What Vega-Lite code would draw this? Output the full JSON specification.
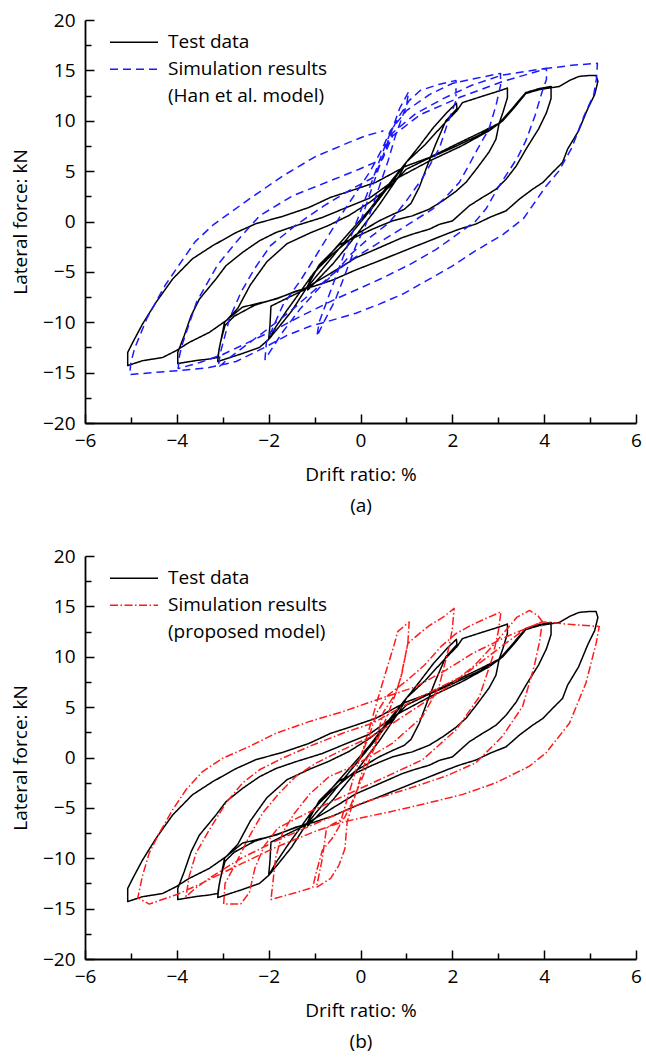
{
"$schema": "https://vega.github.io/schema/vega-lite/v6.json",
"padding": {"left": 11, "top": 11, "right": 2, "bottom": 2},
"bounds": "flush",
"spacing": 133,
"datasets": {
"test": [
{"s":"Test data","i":1,"x":0,"y":0},{"s":"Test data","i":2,"x":0.5,"y":3.0},{"s":"Test data","i":3,"x":1.0,"y":5.9},{"s":"Test data","i":4,"x":0.85,"y":4.6},{"s":"Test data","i":5,"x":0.4,"y":1.6},{"s":"Test data","i":6,"x":-0.1,"y":-1.4},{"s":"Test data","i":7,"x":-0.6,"y":-4.2},{"s":"Test data","i":8,"x":-1.15,"y":-6.8},{"s":"Test data","i":9,"x":-1.1,"y":-5.6},{"s":"Test data","i":10,"x":-0.5,"y":-2.4},
{"s":"Test data","i":11,"x":0.2,"y":1.2},{"s":"Test data","i":12,"x":0.65,"y":3.9},{"s":"Test data","i":13,"x":1.02,"y":6.0},{"s":"Test data","i":14,"x":1.3,"y":7.6},{"s":"Test data","i":15,"x":1.6,"y":9.4},{"s":"Test data","i":16,"x":1.9,"y":10.9},{"s":"Test data","i":17,"x":2.09,"y":11.74},{"s":"Test data","i":18,"x":2.1,"y":11.2},{"s":"Test data","i":19,"x":1.86,"y":10.0},{"s":"Test data","i":20,"x":1.64,"y":7.7},
{"s":"Test data","i":21,"x":1.46,"y":5.6},{"s":"Test data","i":22,"x":1.28,"y":3.4},{"s":"Test data","i":23,"x":1.1,"y":1.8},{"s":"Test data","i":24,"x":0.95,"y":1.2},{"s":"Test data","i":25,"x":0.7,"y":0.7},{"s":"Test data","i":26,"x":0.41,"y":0.07},{"s":"Test data","i":27,"x":-0.1,"y":-1.3},{"s":"Test data","i":28,"x":-0.6,"y":-3.2},{"s":"Test data","i":29,"x":-1.0,"y":-5.0},{"s":"Test data","i":30,"x":-1.3,"y":-6.9},
{"s":"Test data","i":31,"x":-1.6,"y":-8.8},{"s":"Test data","i":32,"x":-1.85,"y":-10.5},{"s":"Test data","i":33,"x":-2.0,"y":-11.7},{"s":"Test data","i":34,"x":-1.97,"y":-10.2},{"s":"Test data","i":35,"x":-1.95,"y":-8.4},{"s":"Test data","i":36,"x":-1.55,"y":-7.5},{"s":"Test data","i":37,"x":-1.19,"y":-6.7},{"s":"Test data","i":38,"x":-0.7,"y":-4.0},{"s":"Test data","i":39,"x":-0.2,"y":-1.2},{"s":"Test data","i":40,"x":0.3,"y":1.6},
{"s":"Test data","i":41,"x":0.7,"y":4.0},{"s":"Test data","i":42,"x":1.0,"y":5.9},{"s":"Test data","i":43,"x":1.4,"y":7.6},{"s":"Test data","i":44,"x":1.8,"y":9.6},{"s":"Test data","i":45,"x":2.1,"y":11.0},{"s":"Test data","i":46,"x":2.22,"y":11.8},{"s":"Test data","i":47,"x":2.7,"y":12.5},{"s":"Test data","i":48,"x":3.05,"y":13.0},{"s":"Test data","i":49,"x":3.2,"y":13.25},{"s":"Test data","i":50,"x":3.2,"y":12.3},
{"s":"Test data","i":51,"x":3.1,"y":10.8},{"s":"Test data","i":52,"x":3.02,"y":9.76},{"s":"Test data","i":53,"x":2.95,"y":8.17},{"s":"Test data","i":54,"x":2.8,"y":6.9},{"s":"Test data","i":55,"x":2.55,"y":5.36},{"s":"Test data","i":56,"x":2.3,"y":3.9},{"s":"Test data","i":57,"x":2.08,"y":3.0},{"s":"Test data","i":58,"x":1.79,"y":2.05},{"s":"Test data","i":59,"x":1.5,"y":1.23},{"s":"Test data","i":60,"x":1.13,"y":0.56},
{"s":"Test data","i":61,"x":0.7,"y":0.07},{"s":"Test data","i":62,"x":0.26,"y":-0.76},{"s":"Test data","i":63,"x":-0.46,"y":-2.3},{"s":"Test data","i":64,"x":-0.9,"y":-4.3},{"s":"Test data","i":65,"x":-1.19,"y":-6.7},{"s":"Test data","i":66,"x":-1.5,"y":-8.9},{"s":"Test data","i":67,"x":-1.8,"y":-10.6},{"s":"Test data","i":68,"x":-2.0,"y":-11.7},{"s":"Test data","i":69,"x":-2.2,"y":-12.5},{"s":"Test data","i":70,"x":-2.57,"y":-13.1},
{"s":"Test data","i":71,"x":-3.11,"y":-13.9},{"s":"Test data","i":72,"x":-3.08,"y":-12.7},{"s":"Test data","i":73,"x":-2.96,"y":-10.0},{"s":"Test data","i":74,"x":-2.67,"y":-8.6},{"s":"Test data","i":75,"x":-2.4,"y":-6.3},{"s":"Test data","i":76,"x":-2.04,"y":-4.0},{"s":"Test data","i":77,"x":-1.6,"y":-2.2},{"s":"Test data","i":78,"x":-1.06,"y":-1.06},{"s":"Test data","i":79,"x":-0.7,"y":-0.4},{"s":"Test data","i":80,"x":-0.25,"y":0.6},
{"s":"Test data","i":81,"x":0.2,"y":1.9},{"s":"Test data","i":82,"x":0.65,"y":3.5},{"s":"Test data","i":83,"x":1.0,"y":5.2},{"s":"Test data","i":84,"x":1.5,"y":6.3},{"s":"Test data","i":85,"x":2.0,"y":7.3},{"s":"Test data","i":86,"x":2.6,"y":8.6},{"s":"Test data","i":87,"x":3.02,"y":9.76},{"s":"Test data","i":88,"x":3.3,"y":11.2},{"s":"Test data","i":89,"x":3.6,"y":12.8},{"s":"Test data","i":90,"x":3.9,"y":13.2},
{"s":"Test data","i":91,"x":4.15,"y":13.4},{"s":"Test data","i":92,"x":4.15,"y":12.2},{"s":"Test data","i":93,"x":4.05,"y":10.8},{"s":"Test data","i":94,"x":3.88,"y":9.2},{"s":"Test data","i":95,"x":3.62,"y":7.3},{"s":"Test data","i":96,"x":3.39,"y":5.5},{"s":"Test data","i":97,"x":3.17,"y":4.2},{"s":"Test data","i":98,"x":2.95,"y":3.2},{"s":"Test data","i":99,"x":2.59,"y":2.2},{"s":"Test data","i":100,"x":2.37,"y":1.56},
{"s":"Test data","i":101,"x":2.0,"y":0.05},{"s":"Test data","i":102,"x":1.71,"y":-0.3},{"s":"Test data","i":103,"x":1.5,"y":-0.76},{"s":"Test data","i":104,"x":1.13,"y":-1.26},{"s":"Test data","i":105,"x":0.91,"y":-1.6},{"s":"Test data","i":106,"x":0.41,"y":-2.6},{"s":"Test data","i":107,"x":-0.1,"y":-3.6},{"s":"Test data","i":108,"x":-0.6,"y":-5.0},{"s":"Test data","i":109,"x":-1.19,"y":-6.6},{"s":"Test data","i":110,"x":-1.8,"y":-7.6},
{"s":"Test data","i":111,"x":-2.3,"y":-8.3},{"s":"Test data","i":112,"x":-2.75,"y":-9.4},{"s":"Test data","i":113,"x":-2.95,"y":-10.3},{"s":"Test data","i":114,"x":-3.05,"y":-12.0},{"s":"Test data","i":115,"x":-3.11,"y":-13.5},{"s":"Test data","i":116,"x":-3.3,"y":-13.65},{"s":"Test data","i":117,"x":-3.58,"y":-13.8},{"s":"Test data","i":118,"x":-3.98,"y":-14.1},{"s":"Test data","i":119,"x":-3.98,"y":-13.0},{"s":"Test data","i":120,"x":-3.84,"y":-11.34},
{"s":"Test data","i":121,"x":-3.69,"y":-9.36},{"s":"Test data","i":122,"x":-3.51,"y":-7.71},{"s":"Test data","i":123,"x":-3.15,"y":-5.72},{"s":"Test data","i":124,"x":-2.93,"y":-4.39},{"s":"Test data","i":125,"x":-2.57,"y":-3.07},{"s":"Test data","i":126,"x":-2.2,"y":-1.91},{"s":"Test data","i":127,"x":-1.84,"y":-1.09},{"s":"Test data","i":128,"x":-1.41,"y":-0.42},{"s":"Test data","i":129,"x":-0.83,"y":0.4},{"s":"Test data","i":130,"x":-0.39,"y":1.23},
{"s":"Test data","i":131,"x":0.19,"y":2.3},{"s":"Test data","i":132,"x":0.8,"y":4.3},{"s":"Test data","i":133,"x":1.5,"y":6.0},{"s":"Test data","i":134,"x":2.2,"y":7.5},{"s":"Test data","i":135,"x":2.8,"y":9.0},{"s":"Test data","i":136,"x":3.1,"y":10.0},{"s":"Test data","i":137,"x":3.35,"y":11.3},{"s":"Test data","i":138,"x":3.6,"y":12.7},{"s":"Test data","i":139,"x":3.9,"y":13.1},{"s":"Test data","i":140,"x":4.33,"y":13.4},
{"s":"Test data","i":141,"x":4.55,"y":14.0},{"s":"Test data","i":142,"x":4.76,"y":14.4},{"s":"Test data","i":143,"x":5.0,"y":14.5},{"s":"Test data","i":144,"x":5.13,"y":14.5},{"s":"Test data","i":145,"x":5.17,"y":13.9},{"s":"Test data","i":146,"x":5.1,"y":12.6},{"s":"Test data","i":147,"x":4.95,"y":11.2},{"s":"Test data","i":148,"x":4.75,"y":9.0},{"s":"Test data","i":149,"x":4.51,"y":7.18},{"s":"Test data","i":150,"x":4.4,"y":5.86},
{"s":"Test data","i":151,"x":4.18,"y":4.86},{"s":"Test data","i":152,"x":3.97,"y":3.87},{"s":"Test data","i":153,"x":3.75,"y":3.21},{"s":"Test data","i":154,"x":3.46,"y":2.22},{"s":"Test data","i":155,"x":3.17,"y":1.06},{"s":"Test data","i":156,"x":2.81,"y":0.4},{"s":"Test data","i":157,"x":2.51,"y":-0.26},{"s":"Test data","i":158,"x":2.15,"y":-0.76},{"s":"Test data","i":159,"x":1.86,"y":-1.26},{"s":"Test data","i":160,"x":1.5,"y":-1.92},
{"s":"Test data","i":161,"x":1.13,"y":-2.58},{"s":"Test data","i":162,"x":0.77,"y":-3.24},{"s":"Test data","i":163,"x":0.41,"y":-3.9},{"s":"Test data","i":164,"x":-0.1,"y":-4.8},{"s":"Test data","i":165,"x":-0.6,"y":-5.8},{"s":"Test data","i":166,"x":-1.0,"y":-6.4},{"s":"Test data","i":167,"x":-1.4,"y":-6.9},{"s":"Test data","i":168,"x":-1.84,"y":-7.7},{"s":"Test data","i":169,"x":-2.57,"y":-8.5},{"s":"Test data","i":170,"x":-2.93,"y":-9.85},
{"s":"Test data","i":171,"x":-3.29,"y":-11.0},{"s":"Test data","i":172,"x":-3.73,"y":-12.0},{"s":"Test data","i":173,"x":-4.02,"y":-12.83},{"s":"Test data","i":174,"x":-4.31,"y":-13.5},{"s":"Test data","i":175,"x":-4.75,"y":-13.82},{"s":"Test data","i":176,"x":-5.07,"y":-14.3},{"s":"Test data","i":177,"x":-5.07,"y":-13.0},{"s":"Test data","i":178,"x":-4.96,"y":-12.0},{"s":"Test data","i":179,"x":-4.75,"y":-10.2},{"s":"Test data","i":180,"x":-4.45,"y":-8.0},
{"s":"Test data","i":181,"x":-4.09,"y":-5.7},{"s":"Test data","i":182,"x":-3.66,"y":-3.7},{"s":"Test data","i":183,"x":-3.22,"y":-2.4},{"s":"Test data","i":184,"x":-2.71,"y":-1.1},{"s":"Test data","i":185,"x":-2.27,"y":-0.2},{"s":"Test data","i":186,"x":-1.7,"y":0.5},{"s":"Test data","i":187,"x":-1.12,"y":1.4},{"s":"Test data","i":188,"x":-0.65,"y":2.4},{"s":"Test data","i":189,"x":-0.24,"y":3.0},{"s":"Test data","i":190,"x":0.34,"y":3.9},
{"s":"Test data","i":191,"x":0.99,"y":5.5},{"s":"Test data","i":192,"x":1.5,"y":6.35},{"s":"Test data","i":193,"x":2.1,"y":7.7},{"s":"Test data","i":194,"x":2.6,"y":8.8},{"s":"Test data","i":195,"x":3.02,"y":9.76}
],
"han": [
{"s":"Simulation results","i":1,"x":0,"y":0},{"s":"Simulation results","i":2,"x":0.3,"y":4.0},{"s":"Simulation results","i":3,"x":0.6,"y":8.0},{"s":"Simulation results","i":4,"x":0.85,"y":11.2},{"s":"Simulation results","i":5,"x":1.05,"y":12.9},{"s":"Simulation results","i":6,"x":1.0,"y":11.5},{"s":"Simulation results","i":7,"x":0.76,"y":8.5},{"s":"Simulation results","i":8,"x":0.6,"y":6.0},{"s":"Simulation results","i":9,"x":0.45,"y":4.0},{"s":"Simulation results","i":10,"x":0.3,"y":2.0},
{"s":"Simulation results","i":11,"x":0.1,"y":-0.5},{"s":"Simulation results","i":12,"x":-0.1,"y":-2.4},{"s":"Simulation results","i":13,"x":-0.32,"y":-5.06},{"s":"Simulation results","i":14,"x":-0.55,"y":-7.8},{"s":"Simulation results","i":15,"x":-0.8,"y":-10.0},{"s":"Simulation results","i":16,"x":-0.95,"y":-11.4},{"s":"Simulation results","i":17,"x":-0.9,"y":-10.0},{"s":"Simulation results","i":18,"x":-0.7,"y":-7.5},{"s":"Simulation results","i":19,"x":-0.5,"y":-5.0},{"s":"Simulation results","i":20,"x":-0.25,"y":-2.0},
{"s":"Simulation results","i":21,"x":0.0,"y":1.0},{"s":"Simulation results","i":22,"x":0.25,"y":4.0},{"s":"Simulation results","i":23,"x":0.45,"y":6.5},{"s":"Simulation results","i":24,"x":0.65,"y":8.8},{"s":"Simulation results","i":25,"x":0.85,"y":10.5},{"s":"Simulation results","i":26,"x":1.06,"y":12.0},{"s":"Simulation results","i":27,"x":1.3,"y":13.0},{"s":"Simulation results","i":28,"x":1.7,"y":13.6},{"s":"Simulation results","i":29,"x":2.08,"y":14.0},{"s":"Simulation results","i":30,"x":2.08,"y":12.0},
{"s":"Simulation results","i":31,"x":1.9,"y":9.8},{"s":"Simulation results","i":32,"x":1.72,"y":7.3},{"s":"Simulation results","i":33,"x":1.5,"y":5.5},{"s":"Simulation results","i":34,"x":1.35,"y":4.3},{"s":"Simulation results","i":35,"x":0.99,"y":2.0},{"s":"Simulation results","i":36,"x":0.63,"y":-0.1},{"s":"Simulation results","i":37,"x":0.2,"y":-1.6},{"s":"Simulation results","i":38,"x":-0.2,"y":-3.2},{"s":"Simulation results","i":39,"x":-0.5,"y":-4.8},{"s":"Simulation results","i":40,"x":-0.9,"y":-6.6},
{"s":"Simulation results","i":41,"x":-1.3,"y":-8.6},{"s":"Simulation results","i":42,"x":-1.7,"y":-11.0},{"s":"Simulation results","i":43,"x":-2.08,"y":-13.7},{"s":"Simulation results","i":44,"x":-2.05,"y":-12.0},{"s":"Simulation results","i":45,"x":-1.69,"y":-8.3},{"s":"Simulation results","i":46,"x":-1.3,"y":-5.8},{"s":"Simulation results","i":47,"x":-0.97,"y":-3.4},{"s":"Simulation results","i":48,"x":-0.43,"y":0.6},{"s":"Simulation results","i":49,"x":0.2,"y":4.9},{"s":"Simulation results","i":50,"x":0.45,"y":7.0},
{"s":"Simulation results","i":51,"x":0.65,"y":9.0},{"s":"Simulation results","i":52,"x":1.0,"y":11.0},{"s":"Simulation results","i":53,"x":1.5,"y":12.6},{"s":"Simulation results","i":54,"x":2.0,"y":13.7},{"s":"Simulation results","i":55,"x":2.5,"y":14.2},{"s":"Simulation results","i":56,"x":3.05,"y":14.7},{"s":"Simulation results","i":57,"x":3.05,"y":13.5},{"s":"Simulation results","i":58,"x":2.95,"y":11.5},{"s":"Simulation results","i":59,"x":2.8,"y":9.2},{"s":"Simulation results","i":60,"x":2.55,"y":7.2},
{"s":"Simulation results","i":61,"x":2.35,"y":5.5},{"s":"Simulation results","i":62,"x":2.15,"y":3.87},{"s":"Simulation results","i":63,"x":1.85,"y":2.4},{"s":"Simulation results","i":64,"x":1.57,"y":1.23},{"s":"Simulation results","i":65,"x":0.99,"y":-0.43},{"s":"Simulation results","i":66,"x":0.41,"y":-2.08},{"s":"Simulation results","i":67,"x":-0.2,"y":-3.8},{"s":"Simulation results","i":68,"x":-0.6,"y":-5.2},{"s":"Simulation results","i":69,"x":-1.0,"y":-6.8},{"s":"Simulation results","i":70,"x":-1.5,"y":-8.8},
{"s":"Simulation results","i":71,"x":-2.0,"y":-10.6},{"s":"Simulation results","i":72,"x":-2.5,"y":-12.3},{"s":"Simulation results","i":73,"x":-2.9,"y":-13.7},{"s":"Simulation results","i":74,"x":-3.1,"y":-14.5},{"s":"Simulation results","i":75,"x":-3.05,"y":-13.0},{"s":"Simulation results","i":76,"x":-2.85,"y":-9.6},{"s":"Simulation results","i":77,"x":-2.6,"y":-7.0},{"s":"Simulation results","i":78,"x":-2.31,"y":-4.7},{"s":"Simulation results","i":79,"x":-1.96,"y":-2.4},{"s":"Simulation results","i":80,"x":-1.42,"y":-0.4},
{"s":"Simulation results","i":81,"x":-0.79,"y":1.58},{"s":"Simulation results","i":82,"x":-0.2,"y":3.2},{"s":"Simulation results","i":83,"x":0.29,"y":4.4},{"s":"Simulation results","i":84,"x":0.5,"y":6.5},{"s":"Simulation results","i":85,"x":0.7,"y":8.8},{"s":"Simulation results","i":86,"x":1.2,"y":10.7},{"s":"Simulation results","i":87,"x":1.8,"y":12.2},{"s":"Simulation results","i":88,"x":2.41,"y":13.5},{"s":"Simulation results","i":89,"x":3.06,"y":14.5},{"s":"Simulation results","i":90,"x":3.6,"y":14.9},
{"s":"Simulation results","i":91,"x":4.05,"y":15.2},{"s":"Simulation results","i":92,"x":4.05,"y":14.1},{"s":"Simulation results","i":93,"x":3.95,"y":12.8},{"s":"Simulation results","i":94,"x":3.8,"y":10.5},{"s":"Simulation results","i":95,"x":3.6,"y":8.0},{"s":"Simulation results","i":96,"x":3.42,"y":6.35},{"s":"Simulation results","i":97,"x":3.2,"y":4.8},{"s":"Simulation results","i":98,"x":3.02,"y":3.54},{"s":"Simulation results","i":99,"x":2.73,"y":1.23},{"s":"Simulation results","i":100,"x":2.5,"y":0.0},
{"s":"Simulation results","i":101,"x":2.22,"y":-0.9},{"s":"Simulation results","i":102,"x":1.64,"y":-2.8},{"s":"Simulation results","i":103,"x":1.06,"y":-4.3},{"s":"Simulation results","i":104,"x":0.48,"y":-5.6},{"s":"Simulation results","i":105,"x":0.0,"y":-6.6},{"s":"Simulation results","i":106,"x":-0.5,"y":-7.6},{"s":"Simulation results","i":107,"x":-0.9,"y":-8.5},{"s":"Simulation results","i":108,"x":-1.3,"y":-9.4},{"s":"Simulation results","i":109,"x":-1.8,"y":-10.6},{"s":"Simulation results","i":110,"x":-2.4,"y":-11.9},
{"s":"Simulation results","i":111,"x":-3.0,"y":-13.2},{"s":"Simulation results","i":112,"x":-3.5,"y":-14.0},{"s":"Simulation results","i":113,"x":-3.97,"y":-14.6},{"s":"Simulation results","i":114,"x":-3.95,"y":-13.5},{"s":"Simulation results","i":115,"x":-3.89,"y":-12.3},{"s":"Simulation results","i":116,"x":-3.57,"y":-8.0},{"s":"Simulation results","i":117,"x":-3.12,"y":-4.36},{"s":"Simulation results","i":118,"x":-2.7,"y":-2.0},{"s":"Simulation results","i":119,"x":-2.2,"y":0.56},{"s":"Simulation results","i":120,"x":-1.48,"y":2.55},
{"s":"Simulation results","i":121,"x":-0.75,"y":3.87},{"s":"Simulation results","i":122,"x":-0.03,"y":5.19},{"s":"Simulation results","i":123,"x":0.48,"y":6.19},{"s":"Simulation results","i":124,"x":0.7,"y":8.5},{"s":"Simulation results","i":125,"x":1.3,"y":10.6},{"s":"Simulation results","i":126,"x":2.15,"y":12.3},{"s":"Simulation results","i":127,"x":3.1,"y":13.9},{"s":"Simulation results","i":128,"x":4.07,"y":15.2},{"s":"Simulation results","i":129,"x":4.6,"y":15.5},{"s":"Simulation results","i":130,"x":5.16,"y":15.7},
{"s":"Simulation results","i":131,"x":5.14,"y":14.2},{"s":"Simulation results","i":132,"x":5.08,"y":12.6},{"s":"Simulation results","i":133,"x":4.87,"y":10.5},{"s":"Simulation results","i":134,"x":4.6,"y":7.3},{"s":"Simulation results","i":135,"x":4.32,"y":5.0},{"s":"Simulation results","i":136,"x":4.04,"y":3.5},{"s":"Simulation results","i":137,"x":3.75,"y":1.6},{"s":"Simulation results","i":138,"x":3.55,"y":0.3},{"s":"Simulation results","i":139,"x":3.1,"y":-1.3},{"s":"Simulation results","i":140,"x":2.51,"y":-2.9},
{"s":"Simulation results","i":141,"x":1.97,"y":-4.5},{"s":"Simulation results","i":142,"x":1.43,"y":-5.9},{"s":"Simulation results","i":143,"x":0.92,"y":-7.2},{"s":"Simulation results","i":144,"x":0.41,"y":-8.2},{"s":"Simulation results","i":145,"x":-0.1,"y":-9.1},{"s":"Simulation results","i":146,"x":-0.7,"y":-9.9},{"s":"Simulation results","i":147,"x":-1.1,"y":-10.4},{"s":"Simulation results","i":148,"x":-1.6,"y":-11.3},{"s":"Simulation results","i":149,"x":-2.13,"y":-12.6},{"s":"Simulation results","i":150,"x":-2.71,"y":-13.9},
{"s":"Simulation results","i":151,"x":-3.3,"y":-14.5},{"s":"Simulation results","i":152,"x":-3.97,"y":-14.8},{"s":"Simulation results","i":153,"x":-4.53,"y":-15.0},{"s":"Simulation results","i":154,"x":-5.03,"y":-15.2},{"s":"Simulation results","i":155,"x":-5.0,"y":-14.0},{"s":"Simulation results","i":156,"x":-4.92,"y":-12.6},{"s":"Simulation results","i":157,"x":-4.65,"y":-9.6},{"s":"Simulation results","i":158,"x":-4.25,"y":-6.3},{"s":"Simulation results","i":159,"x":-3.98,"y":-4.5},{"s":"Simulation results","i":160,"x":-3.6,"y":-2.0},
{"s":"Simulation results","i":161,"x":-3.2,"y":-0.3},{"s":"Simulation results","i":162,"x":-2.8,"y":1.0},{"s":"Simulation results","i":163,"x":-2.4,"y":2.3},{"s":"Simulation results","i":164,"x":-1.7,"y":4.5},{"s":"Simulation results","i":165,"x":-1.0,"y":6.4},{"s":"Simulation results","i":166,"x":-0.25,"y":7.85},{"s":"Simulation results","i":167,"x":0.11,"y":8.5},{"s":"Simulation results","i":168,"x":0.5,"y":9.0}
],
"prop": [
{"s":"Simulation results","i":1,"x":0,"y":0},{"s":"Simulation results","i":2,"x":0.2,"y":3.0},{"s":"Simulation results","i":3,"x":0.37,"y":5.7},{"s":"Simulation results","i":4,"x":0.52,"y":8.0},{"s":"Simulation results","i":5,"x":0.74,"y":11.3},{"s":"Simulation results","i":6,"x":0.81,"y":12.5},{"s":"Simulation results","i":7,"x":1.06,"y":13.45},{"s":"Simulation results","i":8,"x":1.03,"y":11.3},{"s":"Simulation results","i":9,"x":0.88,"y":8.0},{"s":"Simulation results","i":10,"x":0.77,"y":6.4},
{"s":"Simulation results","i":11,"x":0.63,"y":4.7},{"s":"Simulation results","i":12,"x":0.34,"y":1.4},{"s":"Simulation results","i":13,"x":0.05,"y":-1.9},{"s":"Simulation results","i":14,"x":-0.2,"y":-4.6},{"s":"Simulation results","i":15,"x":-0.35,"y":-6.0},{"s":"Simulation results","i":16,"x":-0.6,"y":-6.6},{"s":"Simulation results","i":17,"x":-0.74,"y":-7.0},{"s":"Simulation results","i":18,"x":-0.83,"y":-10.0},{"s":"Simulation results","i":19,"x":-0.96,"y":-12.9},{"s":"Simulation results","i":20,"x":-0.65,"y":-12.0},
{"s":"Simulation results","i":21,"x":-0.47,"y":-10.7},{"s":"Simulation results","i":22,"x":-0.34,"y":-9.06},{"s":"Simulation results","i":23,"x":-0.29,"y":-6.4},{"s":"Simulation results","i":24,"x":-0.1,"y":-3.5},{"s":"Simulation results","i":25,"x":0.1,"y":-0.5},{"s":"Simulation results","i":26,"x":0.33,"y":1.5},{"s":"Simulation results","i":27,"x":0.5,"y":4.5},{"s":"Simulation results","i":28,"x":0.77,"y":6.4},{"s":"Simulation results","i":29,"x":0.9,"y":8.3},{"s":"Simulation results","i":30,"x":1.03,"y":11.3},
{"s":"Simulation results","i":31,"x":1.28,"y":12.3},{"s":"Simulation results","i":32,"x":1.5,"y":13.1},{"s":"Simulation results","i":33,"x":1.79,"y":13.9},{"s":"Simulation results","i":34,"x":2.04,"y":14.8},{"s":"Simulation results","i":35,"x":2.0,"y":12.8},{"s":"Simulation results","i":36,"x":1.93,"y":11.0},{"s":"Simulation results","i":37,"x":1.71,"y":7.03},{"s":"Simulation results","i":38,"x":1.35,"y":4.06},{"s":"Simulation results","i":39,"x":0.7,"y":1.42},{"s":"Simulation results","i":40,"x":-0.17,"y":-0.89},
{"s":"Simulation results","i":41,"x":-0.68,"y":-1.88},{"s":"Simulation results","i":42,"x":-1.1,"y":-3.6},{"s":"Simulation results","i":43,"x":-1.45,"y":-5.6},{"s":"Simulation results","i":44,"x":-1.7,"y":-7.5},{"s":"Simulation results","i":45,"x":-1.85,"y":-10.0},{"s":"Simulation results","i":46,"x":-1.91,"y":-12.5},{"s":"Simulation results","i":47,"x":-1.95,"y":-14.1},{"s":"Simulation results","i":48,"x":-1.4,"y":-13.4},{"s":"Simulation results","i":49,"x":-1.04,"y":-12.9},{"s":"Simulation results","i":50,"x":-0.97,"y":-11.5},
{"s":"Simulation results","i":51,"x":-0.83,"y":-9.2},{"s":"Simulation results","i":52,"x":-0.61,"y":-8.0},{"s":"Simulation results","i":53,"x":-0.46,"y":-6.8},{"s":"Simulation results","i":54,"x":-0.25,"y":-3.5},{"s":"Simulation results","i":55,"x":-0.05,"y":-0.5},{"s":"Simulation results","i":56,"x":0.2,"y":2.3},{"s":"Simulation results","i":57,"x":0.36,"y":4.5},{"s":"Simulation results","i":58,"x":0.6,"y":6.2},{"s":"Simulation results","i":59,"x":1.0,"y":7.6},{"s":"Simulation results","i":60,"x":1.4,"y":9.2},
{"s":"Simulation results","i":61,"x":1.75,"y":11.0},{"s":"Simulation results","i":62,"x":2.08,"y":12.3},{"s":"Simulation results","i":63,"x":2.4,"y":13.1},{"s":"Simulation results","i":64,"x":2.73,"y":13.8},{"s":"Simulation results","i":65,"x":3.06,"y":14.45},{"s":"Simulation results","i":66,"x":3.0,"y":12.5},{"s":"Simulation results","i":67,"x":2.88,"y":10.0},{"s":"Simulation results","i":68,"x":2.59,"y":6.04},{"s":"Simulation results","i":69,"x":2.08,"y":2.74},{"s":"Simulation results","i":70,"x":1.35,"y":-0.23},
{"s":"Simulation results","i":71,"x":0.41,"y":-2.21},{"s":"Simulation results","i":72,"x":-0.54,"y":-4.19},{"s":"Simulation results","i":73,"x":-1.2,"y":-5.6},{"s":"Simulation results","i":74,"x":-1.8,"y":-7.0},{"s":"Simulation results","i":75,"x":-2.1,"y":-8.8},{"s":"Simulation results","i":76,"x":-2.3,"y":-11.0},{"s":"Simulation results","i":77,"x":-2.42,"y":-13.4},{"s":"Simulation results","i":78,"x":-2.61,"y":-14.55},{"s":"Simulation results","i":79,"x":-2.98,"y":-14.55},{"s":"Simulation results","i":80,"x":-2.95,"y":-12.5},
{"s":"Simulation results","i":81,"x":-2.71,"y":-10.46},{"s":"Simulation results","i":82,"x":-2.42,"y":-7.82},{"s":"Simulation results","i":83,"x":-2.13,"y":-5.51},{"s":"Simulation results","i":84,"x":-1.77,"y":-3.53},{"s":"Simulation results","i":85,"x":-1.41,"y":-1.88},{"s":"Simulation results","i":86,"x":-0.97,"y":-0.56},{"s":"Simulation results","i":87,"x":-0.39,"y":0.76},{"s":"Simulation results","i":88,"x":0.2,"y":2.0},{"s":"Simulation results","i":89,"x":0.7,"y":3.4},{"s":"Simulation results","i":90,"x":1.3,"y":5.2},
{"s":"Simulation results","i":91,"x":1.9,"y":7.0},{"s":"Simulation results","i":92,"x":2.5,"y":9.2},{"s":"Simulation results","i":93,"x":2.9,"y":11.2},{"s":"Simulation results","i":94,"x":3.2,"y":12.8},{"s":"Simulation results","i":95,"x":3.4,"y":13.9},{"s":"Simulation results","i":96,"x":3.68,"y":14.6},{"s":"Simulation results","i":97,"x":3.86,"y":14.1},{"s":"Simulation results","i":98,"x":3.96,"y":13.47},{"s":"Simulation results","i":99,"x":3.9,"y":11.5},{"s":"Simulation results","i":100,"x":3.78,"y":9.0},
{"s":"Simulation results","i":101,"x":3.53,"y":5.07},{"s":"Simulation results","i":102,"x":3.09,"y":2.1},{"s":"Simulation results","i":103,"x":2.51,"y":-0.53},{"s":"Simulation results","i":104,"x":1.86,"y":-1.85},{"s":"Simulation results","i":105,"x":0.99,"y":-3.17},{"s":"Simulation results","i":106,"x":0.04,"y":-4.49},{"s":"Simulation results","i":107,"x":-0.5,"y":-5.6},{"s":"Simulation results","i":108,"x":-1.0,"y":-6.6},{"s":"Simulation results","i":109,"x":-1.8,"y":-8.2},{"s":"Simulation results","i":110,"x":-2.6,"y":-10.0},
{"s":"Simulation results","i":111,"x":-3.3,"y":-12.0},{"s":"Simulation results","i":112,"x":-3.6,"y":-13.0},{"s":"Simulation results","i":113,"x":-3.8,"y":-13.8},{"s":"Simulation results","i":114,"x":-3.73,"y":-11.78},{"s":"Simulation results","i":115,"x":-3.58,"y":-9.47},{"s":"Simulation results","i":116,"x":-3.29,"y":-7.16},{"s":"Simulation results","i":117,"x":-2.93,"y":-4.52},{"s":"Simulation results","i":118,"x":-2.57,"y":-2.54},{"s":"Simulation results","i":119,"x":-2.2,"y":-1.22},{"s":"Simulation results","i":120,"x":-1.7,"y":-0.07},
{"s":"Simulation results","i":121,"x":-1.12,"y":1.09},{"s":"Simulation results","i":122,"x":-0.39,"y":2.41},{"s":"Simulation results","i":123,"x":0.26,"y":3.4},{"s":"Simulation results","i":124,"x":1.21,"y":5.8},{"s":"Simulation results","i":125,"x":2.23,"y":8.1},{"s":"Simulation results","i":126,"x":3.09,"y":11.1},{"s":"Simulation results","i":127,"x":3.6,"y":12.8},{"s":"Simulation results","i":128,"x":3.96,"y":13.47},{"s":"Simulation results","i":129,"x":4.6,"y":13.2},{"s":"Simulation results","i":130,"x":5.2,"y":13.0},
{"s":"Simulation results","i":131,"x":5.13,"y":11.3},{"s":"Simulation results","i":132,"x":4.91,"y":7.4},{"s":"Simulation results","i":133,"x":4.55,"y":3.4},{"s":"Simulation results","i":134,"x":4.04,"y":0.46},{"s":"Simulation results","i":135,"x":3.68,"y":-0.86},{"s":"Simulation results","i":136,"x":2.95,"y":-2.51},{"s":"Simulation results","i":137,"x":2.23,"y":-3.66},{"s":"Simulation results","i":138,"x":1.35,"y":-4.65},{"s":"Simulation results","i":139,"x":0.63,"y":-5.4},{"s":"Simulation results","i":140,"x":0.0,"y":-6.0},
{"s":"Simulation results","i":141,"x":-0.46,"y":-6.5},{"s":"Simulation results","i":142,"x":-0.97,"y":-7.3},{"s":"Simulation results","i":143,"x":-1.84,"y":-8.9},{"s":"Simulation results","i":144,"x":-2.71,"y":-10.8},{"s":"Simulation results","i":145,"x":-3.51,"y":-12.6},{"s":"Simulation results","i":146,"x":-4.0,"y":-13.6},{"s":"Simulation results","i":147,"x":-4.38,"y":-14.2},{"s":"Simulation results","i":148,"x":-4.6,"y":-14.55},{"s":"Simulation results","i":149,"x":-4.85,"y":-13.93},{"s":"Simulation results","i":150,"x":-4.75,"y":-11.78},
{"s":"Simulation results","i":151,"x":-4.6,"y":-9.47},{"s":"Simulation results","i":152,"x":-4.38,"y":-7.49},{"s":"Simulation results","i":153,"x":-4.09,"y":-5.18},{"s":"Simulation results","i":154,"x":-3.8,"y":-3.2},{"s":"Simulation results","i":155,"x":-3.44,"y":-1.39},{"s":"Simulation results","i":156,"x":-3.0,"y":-0.07},{"s":"Simulation results","i":157,"x":-2.42,"y":1.09},{"s":"Simulation results","i":158,"x":-1.84,"y":2.41},{"s":"Simulation results","i":159,"x":-1.12,"y":3.56},{"s":"Simulation results","i":160,"x":-0.39,"y":4.55},
{"s":"Simulation results","i":161,"x":0.34,"y":5.7},{"s":"Simulation results","i":162,"x":1.21,"y":7.03},{"s":"Simulation results","i":163,"x":1.86,"y":8.68},{"s":"Simulation results","i":164,"x":2.44,"y":10.33},{"s":"Simulation results","i":165,"x":3.17,"y":11.98},{"s":"Simulation results","i":166,"x":3.96,"y":13.47}
]
},
"vconcat": [
{
"width": 551, "height": 403,
"layer": [
{"data": {"name": "test"},
 "mark": {"type": "line", "strokeWidth": 1.5, "strokeJoin": "round"},
 "encoding": {
  "x": {"field": "x", "type": "quantitative", "scale": {"domain": [-6, 6], "nice": false, "zero": false},
        "axis": {"orient": "bottom", "values": [-6, -4, -2, 0, 2, 4, 6], "tickSize": -9, "tickWidth": 1.5, "domainWidth": 1.8, "labelPadding": 17, "labelFlush": false, "labelOverlap": false, "title": ["Drift ratio: %", "(a)"], "titleLineHeight": 31, "titleBaseline": "top", "titleY": 42}},
  "y": {"field": "y", "type": "quantitative", "scale": {"domain": [-20, 20], "nice": false, "zero": false},
        "axis": {"orient": "left", "values": [-20, -15, -10, -5, 0, 5, 10, 15, 20], "tickSize": -9, "tickWidth": 1.5, "domainWidth": 1.8, "labelPadding": 19, "labelFlush": false, "labelOverlap": false, "title": "Lateral force: kN", "titleX": -65, "titleY": 201.5, "titleBaseline": "middle"}},
  "order": {"field": "i", "type": "quantitative"},
  "stroke": {"field": "s", "type": "nominal", "scale": {"domain": ["Test data", "Simulation results", "(Han et al. model)"], "range": ["#000000", "#1a1aff", "rgba(0,0,0,0)"]}, "legend": {"title": null}},
  "strokeDash": {"field": "s", "type": "nominal", "scale": {"domain": ["Test data", "Simulation results", "(Han et al. model)"], "range": [[1, 0], [8, 5], [1, 0]]}, "legend": {"title": null}}
 }},
{"data": {"name": "han"},
 "mark": {"type": "line", "strokeWidth": 1.5, "strokeJoin": "round"},
 "encoding": {
  "x": {"field": "x", "type": "quantitative", "axis": {"orient": "bottom", "values": [-5, -3, -1, 1, 3, 5], "tickSize": -6, "tickWidth": 1.5, "labels": false, "domain": false, "title": null}},
  "y": {"field": "y", "type": "quantitative", "axis": {"orient": "left", "values": [-17.5, -12.5, -7.5, -2.5, 2.5, 7.5, 12.5, 17.5], "tickSize": -6, "tickWidth": 1.5, "labels": false, "domain": false, "title": null}},
  "order": {"field": "i", "type": "quantitative"},
  "stroke": {"field": "s", "type": "nominal", "legend": {"title": null}},
  "strokeDash": {"field": "s", "type": "nominal", "legend": {"title": null}}
 }}
],
"resolve": {"axis": {"x": "independent", "y": "independent"}}
},
{
"width": 551, "height": 403,
"layer": [
{"data": {"name": "test"},
 "mark": {"type": "line", "strokeWidth": 1.5, "strokeJoin": "round"},
 "encoding": {
  "x": {"field": "x", "type": "quantitative", "scale": {"domain": [-6, 6], "nice": false, "zero": false},
        "axis": {"orient": "bottom", "values": [-6, -4, -2, 0, 2, 4, 6], "tickSize": -9, "tickWidth": 1.5, "domainWidth": 1.8, "labelPadding": 17, "labelFlush": false, "labelOverlap": false, "title": ["Drift ratio: %", "(b)"], "titleLineHeight": 31, "titleBaseline": "top", "titleY": 42}},
  "y": {"field": "y", "type": "quantitative", "scale": {"domain": [-20, 20], "nice": false, "zero": false},
        "axis": {"orient": "left", "values": [-20, -15, -10, -5, 0, 5, 10, 15, 20], "tickSize": -9, "tickWidth": 1.5, "domainWidth": 1.8, "labelPadding": 19, "labelFlush": false, "labelOverlap": false, "title": "Lateral force: kN", "titleX": -65, "titleY": 201.5, "titleBaseline": "middle"}},
  "order": {"field": "i", "type": "quantitative"},
  "stroke": {"field": "s", "type": "nominal", "scale": {"domain": ["Test data", "Simulation results", "(proposed model)"], "range": ["#000000", "#ff1a1a", "rgba(0,0,0,0)"]}, "legend": {"title": null}},
  "strokeDash": {"field": "s", "type": "nominal", "scale": {"domain": ["Test data", "Simulation results", "(proposed model)"], "range": [[1, 0], [8, 2.5, 1.5, 2.5], [1, 0]]}, "legend": {"title": null}}
 }},
{"data": {"name": "prop"},
 "mark": {"type": "line", "strokeWidth": 1.5, "strokeJoin": "round"},
 "encoding": {
  "x": {"field": "x", "type": "quantitative", "axis": {"orient": "bottom", "values": [-5, -3, -1, 1, 3, 5], "tickSize": -6, "tickWidth": 1.5, "labels": false, "domain": false, "title": null}},
  "y": {"field": "y", "type": "quantitative", "axis": {"orient": "left", "values": [-17.5, -12.5, -7.5, -2.5, 2.5, 7.5, 12.5, 17.5], "tickSize": -6, "tickWidth": 1.5, "labels": false, "domain": false, "title": null}},
  "order": {"field": "i", "type": "quantitative"},
  "stroke": {"field": "s", "type": "nominal", "legend": {"title": null}},
  "strokeDash": {"field": "s", "type": "nominal", "legend": {"title": null}}
 }}
],
"resolve": {"axis": {"x": "independent", "y": "independent"}}
}
],
"resolve": {"scale": {"x": "independent", "y": "independent", "stroke": "independent", "strokeDash": "independent"}, "legend": {"stroke": "independent", "strokeDash": "independent"}},
"config": {
 "font": "Open Sans",
 "view": {"stroke": null},
 "axis": {"grid": false, "domainColor": "#000000", "tickColor": "#000000", "labelColor": "#000000", "titleColor": "#000000", "labelFontSize": 19, "titleFontSize": 19, "titleFontWeight": "normal", "labelFont": "Open Sans", "titleFont": "Open Sans"},
 "legend": {"orient": "none", "legendX": 24, "legendY": 9, "symbolType": "stroke", "symbolSize": 2304, "symbolStrokeWidth": 1.5, "clipHeight": 26.7, "labelFontSize": 19, "labelFont": "Open Sans", "labelColor": "#000000", "labelOffset": 9, "labelLimit": 300, "rowPadding": 0, "padding": 0}
}
}
